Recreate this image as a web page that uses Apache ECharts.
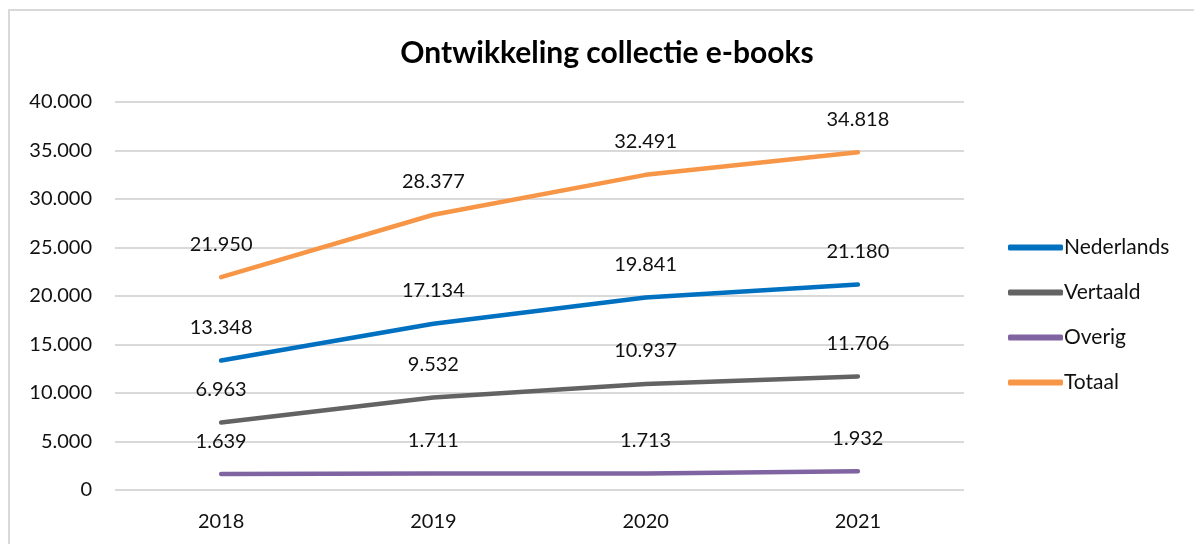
<!DOCTYPE html>
<html><head><meta charset="utf-8">
<script src="https://cdn.jsdelivr.net/npm/echarts@6/dist/echarts.min.js"></script>
<style>html,body{margin:0;padding:0;background:#fff}#c{width:1194px;height:544px}</style>
</head><body><div id="c"></div>
<script>
const years = ['2018','2019','2020','2021'];
const nederlands = [13348, 17134, 19841, 21180];
const vertaald = [6963, 9532, 10937, 11706];
const overig = [1639, 1711, 1713, 1932];
const totaal = [21950, 28377, 32491, 34818];
const seriesNames = ['Nederlands','Vertaald','Overig','Totaal'];
const colors = ['#0070C0','#636363','#8064A2','#F79646'];
const FONT = 'Lato, "Open Sans", sans-serif';
const fmt = v => String(v).replace(/\B(?=(\d{3})+(?!\d))/g, '.');
const chart = echarts.init(document.getElementById('c'));
const mk = (name, data, color) => ({
  name, type: 'line', data, symbol: 'circle', symbolSize: 0, showSymbol: true, smooth: false,
  lineStyle: { width: 4.5, color, cap: 'round' }, itemStyle: { color },
  label: { show: true, position: 'top', distance: 23, formatter: p => fmt(p.value),
    fontFamily: FONT, fontSize: 20, color: '#111' }
});
chart.setOption({
  animation: false,
  graphic: [{ type: 'rect', shape: { x: 9, y: 10, width: 1300, height: 700 },
    style: { fill: 'none', stroke: '#d9d9d9', lineWidth: 2 }, silent: true }],
  title: { text: 'Ontwikkeling collectie e-books', left: 602, top: 33, textAlign: 'center',
    textStyle: { fontFamily: FONT, fontSize: 30, fontWeight: 'bold', color: '#000' } },
  grid: { left: 115, right: 230, top: 102, bottom: 54 },
  legend: { orient: 'vertical', left: 1003, top: 232, itemGap: 24, itemWidth: 55, itemHeight: 6,
    icon: 'roundRect', data: seriesNames,
    textStyle: { fontFamily: FONT, fontSize: 21, color: '#111', padding: [0,0,0,-4] } },
  xAxis: { type: 'category', data: years, boundaryGap: true,
    axisLine: { show: false }, axisTick: { show: false },
    axisLabel: { fontFamily: FONT, fontSize: 20, color: '#111', margin: 22 } },
  yAxis: { type: 'value', min: 0, max: 40000, interval: 5000,
    axisLine: { show: false }, axisTick: { show: false },
    splitLine: { lineStyle: { color: '#d9d9d9', width: 2 } },
    axisLabel: { fontFamily: FONT, fontSize: 20, color: '#111', margin: 23, formatter: fmt } },
  series: [
    mk(seriesNames[0], nederlands, colors[0]),
    mk(seriesNames[1], vertaald, colors[1]),
    mk(seriesNames[2], overig, colors[2]),
    mk(seriesNames[3], totaal, colors[3])
  ]
});
</script></body></html>
